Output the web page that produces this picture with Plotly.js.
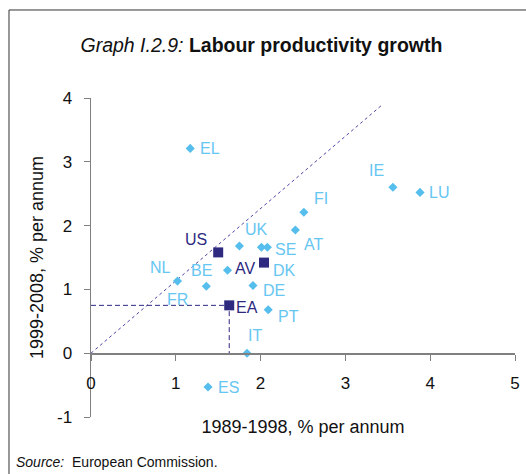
<!DOCTYPE html>
<html>
<head>
<meta charset="utf-8">
<script src="https://cdn.plot.ly/plotly-3.0.1.min.js"></script>
<style>html,body{margin:0;padding:0;background:#fff;}#chart{width:526px;height:474px;}</style>
</head>
<body>
<div id="chart"></div>
<script>
// Countries: 1989-1998 growth (x) vs 1999-2008 growth (y), % per annum
const countries = ['EL','IE','LU','FI','AT','UK','SE','DK','BE','NL','FR','DE','PT','IT','ES'];
const growth8998 = [1.17, 3.56, 3.88, 2.51, 2.41, 1.75, 2.08, 2.01, 1.61, 1.02, 1.36, 1.91, 2.09, 1.84, 1.38];
const growth9908 = [3.21, 2.60, 2.52, 2.21, 1.93, 1.68, 1.66, 1.66, 1.30, 1.13, 1.05, 1.06, 0.68, 0.00, -0.53];

// Aggregates
const aggregates = ['US','AV','EA'];
const aggX = [1.50, 2.04, 1.63];
const aggY = [1.58, 1.42, 0.75];

// Reference diagonal
const refX = [0, 3.44];
const refY = [0, 3.90];

const xTicks = [0, 1, 2, 3, 4, 5];
const yTicks = [-1, 0, 1, 2, 3, 4];

// label offsets in px (dx right, dy down) — layout only
const labelOffsets = {
  EL:[20,0], IE:[-16,-17], LU:[19,0], FI:[17,-14], AT:[18,14], UK:[17,-17],
  SE:[18,2], DK:[23,23], BE:[-26,0], NL:[-17,-14], FR:[-29,13], DE:[21,5],
  PT:[20,7], IT:[8,-18], ES:[20,0], US:[-22,-13], AV:[-19,6], EA:[18,2]
};

const light = '#55BEEC';
const lightText = '#66C6F2';
const navy = '#2D2A80';
const font = 'Liberation Sans, Arial, sans-serif';

const eaIdx = aggregates.indexOf('EA');

const traces = [
  {x: refX, y: refY, mode:'lines', line:{color:'#4B45A6', width:1, dash:'3px,3px'}, hoverinfo:'skip'},
  {x: [0, aggX[eaIdx], aggX[eaIdx]], y: [aggY[eaIdx], aggY[eaIdx], 0], mode:'lines',
   line:{color:navy, width:1, dash:'5px,3px'}, hoverinfo:'skip'},
  {x: growth8998, y: growth9908, mode:'markers', marker:{symbol:'diamond', size:7, color:light}, cliponaxis:false},
  {x: aggX, y: aggY, mode:'markers', marker:{symbol:'square', size:10, color:navy}}
];

const annotations = [];
countries.forEach((c,i)=>{
  const o = labelOffsets[c];
  annotations.push({x:growth8998[i], y:growth9908[i], xref:'x', yref:'y', text:c, showarrow:false,
    xshift:o[0], yshift:-o[1], font:{family:font, size:16, color:lightText}});
});
aggregates.forEach((c,i)=>{
  const o = labelOffsets[c];
  annotations.push({x:aggX[i], y:aggY[i], xref:'x', yref:'y', text:c, showarrow:false,
    xshift:o[0], yshift:-o[1], font:{family:font, size:16, color:navy}});
});
annotations.push({xref:'paper', yref:'paper', x:-0.181, y:-0.142, xanchor:'left', yanchor:'middle',
  text:'<i>Source:</i>  European Commission.', showarrow:false, font:{family:font, size:14, color:'#111'}});

const layout = {
  width:526, height:474,
  margin:{l:91, r:11, t:98, b:57},
  paper_bgcolor:'#fff', plot_bgcolor:'#fff',
  showlegend:false,
  font:{family:font, color:'#111'},
  title:{text:'<i>Graph I.2.9:</i> <b>Labour productivity growth</b>', x:0.497, xanchor:'center',
    y:0.905, yanchor:'middle', yref:'container', font:{family:font, size:19.5, color:'#111'}},
  xaxis:{range:[0,5], tickvals:xTicks, ticktext:xTicks.map(String), showgrid:false, zeroline:false,
    showline:true, linecolor:'#808080', linewidth:1.5, ticks:'outside', ticklen:6, tickcolor:'#808080',
    anchor:'free', position:0.2, ticklabelstandoff:8, tickfont:{size:17, color:'#111'},
    title:{text:'1989-1998, % per annum', font:{size:18, color:'#111'}, standoff:28}},
  yaxis:{range:[-1,4], tickvals:yTicks, ticktext:yTicks.map(String), showgrid:false, zeroline:false,
    showline:true, linecolor:'#808080', linewidth:1.5, ticks:'outside', ticklen:6, tickcolor:'#808080',
    ticklabelstandoff:8, tickfont:{size:17, color:'#111'},
    title:{text:'1999-2008, % per annum', font:{size:18, color:'#111'}, standoff:8}},
  shapes:[{type:'rect', xref:'paper', yref:'paper', x0:-0.1934, x1:1.1, y0:-0.3, y1:1.2759,
    line:{color:'#333', width:1}, fillcolor:'rgba(0,0,0,0)', layer:'below'}],
  annotations: annotations
};

Plotly.newPlot('chart', traces, layout, {displayModeBar:false, staticPlot:true});
</script>
</body>
</html>
